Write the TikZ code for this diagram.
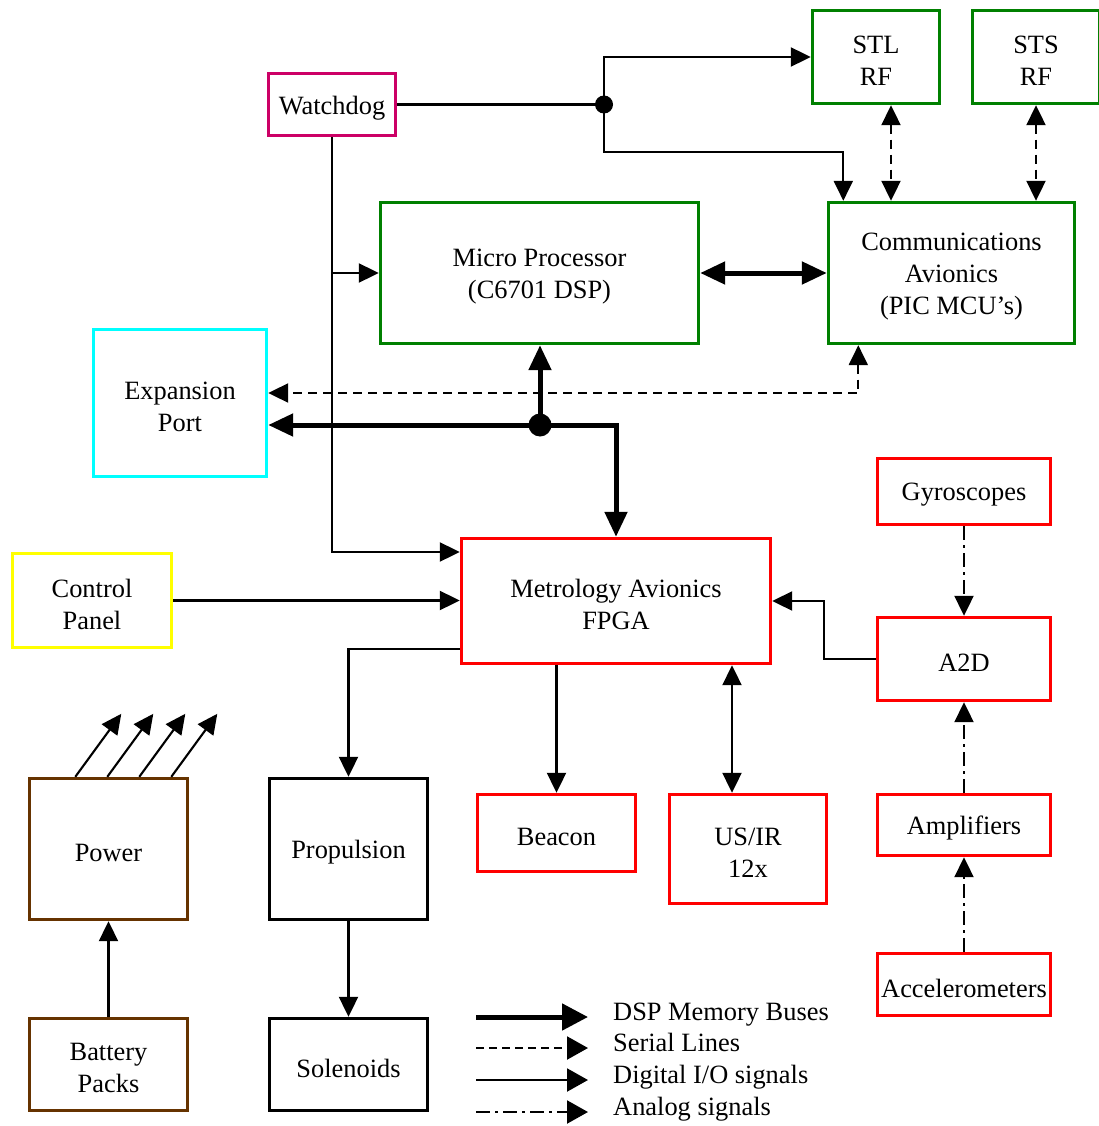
\documentclass[tikz,border=0pt]{standalone}
\usepackage{fontspec}
\setmainfont{Liberation Serif}
\usetikzlibrary{arrows.meta}
\definecolor{boxgreen}{HTML}{008000}
\definecolor{boxmagenta}{HTML}{CC0066}
\definecolor{boxcyan}{HTML}{00FFFF}
\definecolor{boxyellow}{HTML}{FFFF00}
\definecolor{boxred}{HTML}{FF0000}
\definecolor{boxbrown}{HTML}{663300}
\tikzset{
  box/.style={draw=#1, line width=3.4pt, inner sep=0pt},
  boxtext/.style={align=center, inner sep=0pt, yshift=-3.5pt,
    font=\fontsize{26.4}{32}\selectfont},
  thinarr/.style={line width=2.1pt, -{Triangle[length=20pt,width=19pt]}},
  thinboth/.style={line width=2.1pt, {Triangle[length=20pt,width=19pt]}-{Triangle[length=20pt,width=19pt]}},
  thinline/.style={line width=2.1pt},
  busarr/.style={line width=5pt, -{Triangle[length=25pt,width=22pt]}},
  busboth/.style={line width=5pt, {Triangle[length=25pt,width=22pt]}-{Triangle[length=25pt,width=22pt]}},
  serial/.style={dash pattern=on 9pt off 6pt},
  analog/.style={dash pattern=on 14pt off 5pt on 3pt off 5pt},
  legendtext/.style={anchor=base west, inner sep=0pt, font=\fontsize{26.4}{32}\selectfont},
}
\begin{document}
\begin{tikzpicture}[x=1pt, y=-1pt]
\useasboundingbox (0,0) rectangle (1098,1126);

% ---- blocks (frame node with its caption placed at the centre) ----
\node[box=boxgreen, minimum width=127pt, minimum height=93pt,
  label={[boxtext, name=stlt]center:STL\\RF}] (stl) at (876,57) {};
\node[box=boxgreen, minimum width=127pt, minimum height=93pt,
  label={[boxtext, name=stst]center:STS\\RF}] (sts) at (1036,57) {};
\node[box=boxmagenta, minimum width=127pt, minimum height=62pt,
  label={[boxtext, name=wdt]center:Watchdog}] (wd) at (332,104.5) {};
\node[box=boxgreen, minimum width=318pt, minimum height=141pt,
  label={[boxtext, name=mpt]center:Micro Processor\\(C6701 DSP)}] (mp) at (539.5,273) {};
\node[box=boxgreen, minimum width=246pt, minimum height=141pt,
  label={[boxtext, name=commt]center:Communications\\Avionics\\(PIC MCU’s)}] (comm) at (951.5,273) {};
\node[box=boxcyan, minimum width=173pt, minimum height=147pt,
  label={[boxtext, name=expt]center:Expansion\\Port}] (exp) at (180,403) {};
\node[box=boxred, minimum width=173pt, minimum height=66pt,
  label={[boxtext, name=gyrot]center:Gyroscopes}] (gyro) at (964,491.5) {};
\node[box=boxyellow, minimum width=159pt, minimum height=94pt,
  label={[boxtext, name=ctrlt]center:Control\\Panel}] (ctrl) at (92,600.5) {};
\node[box=boxred, minimum width=309pt, minimum height=125pt,
  label={[boxtext, name=fpgat]center:Metrology Avionics\\FPGA}] (fpga) at (616,601) {};
\node[box=boxred, minimum width=173pt, minimum height=83pt,
  label={[boxtext, name=a2dt]center:A2D}] (a2d) at (964,659) {};
\node[box=boxbrown, minimum width=158pt, minimum height=141pt,
  label={[boxtext, name=pwt]center:Power}] (pw) at (108.5,849) {};
\node[box=black, minimum width=158pt, minimum height=141pt,
  label={[boxtext, name=propt]center:Propulsion}] (prop) at (348.5,849) {};
\node[box=boxred, minimum width=158pt, minimum height=77pt,
  label={[boxtext, name=beacont]center:Beacon}] (beacon) at (556.5,833) {};
\node[box=boxred, minimum width=157pt, minimum height=109pt,
  label={[boxtext, name=usirt]center:US/IR\\12x}] (usir) at (748,849) {};
\node[box=boxred, minimum width=173pt, minimum height=61pt,
  label={[boxtext, name=ampt]center:Amplifiers}] (amp) at (964,825) {};
\node[box=boxred, minimum width=173pt, minimum height=62pt,
  label={[boxtext, name=acct]center:Accelerometers}] (acc) at (964,984.5) {};
\node[box=boxbrown, minimum width=158pt, minimum height=92pt,
  label={[boxtext, name=batt]center:Battery\\Packs}] (bat) at (108.5,1064.5) {};
\node[box=black, minimum width=158pt, minimum height=92pt,
  label={[boxtext, name=solt]center:Solenoids}] (sol) at (348.5,1064.5) {};

% ---- helper points ----
\coordinate (j1) at (604,104.5);
\coordinate (c1) at (604,152);
\coordinate (j2) at (540,425);
\coordinate (k) at (824,0);
\coordinate (stlport) at ([xshift=15]stl.south);
\coordinate (commin) at ([xshift=16.5]comm.north west);
\coordinate (commser) at ([xshift=31.5]comm.south west);
\coordinate (expser) at ([yshift=10]exp.east);
\coordinate (expbus) at ([yshift=-22]exp.east);
\coordinate (fpgawd) at ([yshift=49]fpga.west);
\coordinate (fpgaprop) at ([yshift=-48]fpga.west);
\coordinate (usport) at ([xshift=-16]usir.north);

% ---- watchdog lines ----
\draw[thinline] (wd.east) -- (j1);
\draw[thinarr] (j1) |- (stl.west);
\draw[thinarr] (j1) -- (c1) -| (commin);
\fill (j1) circle (9pt);
\draw[thinarr] (wd.south) |- (fpgawd);
\draw[thinarr] (wd.south |- mp.west) -- (mp.west);

% ---- serial lines ----
\draw[thinboth, serial] (stlport) -- (stlport |- comm.north);
\draw[thinboth, serial] (sts.south) -- (sts.south |- comm.north);
\draw[thinboth, serial] (commser) |- (expser);

% ---- DSP memory buses ----
\draw[busboth] (mp.east) -- (comm.west);
\draw[busarr] (j2) -- (j2 |- mp.south);
\draw[busarr] (j2) -- (expbus);
\draw[busarr] (j2) -| (fpga.north);
\fill (j2) circle (11.5pt);

% ---- digital I/O ----
\draw[thinarr] (ctrl.east) -- (ctrl.east -| fpga.west);
\draw[thinarr] (fpgaprop) -| (prop.north);
\draw[thinarr] (beacon.north |- fpga.south) -- (beacon.north);
\draw[thinboth] (usport |- fpga.south) -- (usport);
\draw[thinarr] (a2d.west) -- (a2d.west -| k) |- (fpga.east);
\draw[thinarr] (prop.south) -- (sol.north);
\draw[thinarr] (bat.north) -- (pw.south);
\foreach \dx in {47.5,79.5,111.5,143.5}
  \draw[thinarr] ([xshift=\dx]pw.north west) -- ++(46,-63);

% ---- analog signals ----
\draw[thinarr, analog] (gyro.south) -- (a2d.north);
\draw[thinarr, analog] (amp.north) -- (a2d.south);
\draw[thinarr, analog] (acc.north) -- (amp.south);

% ---- legend ----
\coordinate (la0) at (476,1017);  \coordinate (la1) at (588,1017);
\coordinate (lb0) at (476,1048);  \coordinate (lb1) at (588,1048);
\coordinate (lc0) at (476,1080);  \coordinate (lc1) at (588,1080);
\coordinate (ld0) at (476,1112);  \coordinate (ld1) at (588,1112);
\draw[line width=5pt, -{Triangle[length=26pt,width=26pt]}] (la0) -- (la1);
\draw[line width=2.1pt, dash pattern=on 8pt off 5pt, -{Triangle[length=21pt,width=23pt]}] (lb0) -- (lb1);
\draw[line width=2.1pt, -{Triangle[length=21pt,width=23pt]}] (lc0) -- (lc1);
\draw[line width=2.1pt, analog, -{Triangle[length=21pt,width=23pt]}] (ld0) -- (ld1);
\node[legendtext] (lta) at (613,1020) {DSP Memory Buses};
\node[legendtext] (ltb) at (613,1051) {Serial Lines};
\node[legendtext] (ltc) at (613,1083) {Digital I/O signals};
\node[legendtext] (ltd) at (613,1115) {Analog signals};
\end{tikzpicture}
\end{document}
